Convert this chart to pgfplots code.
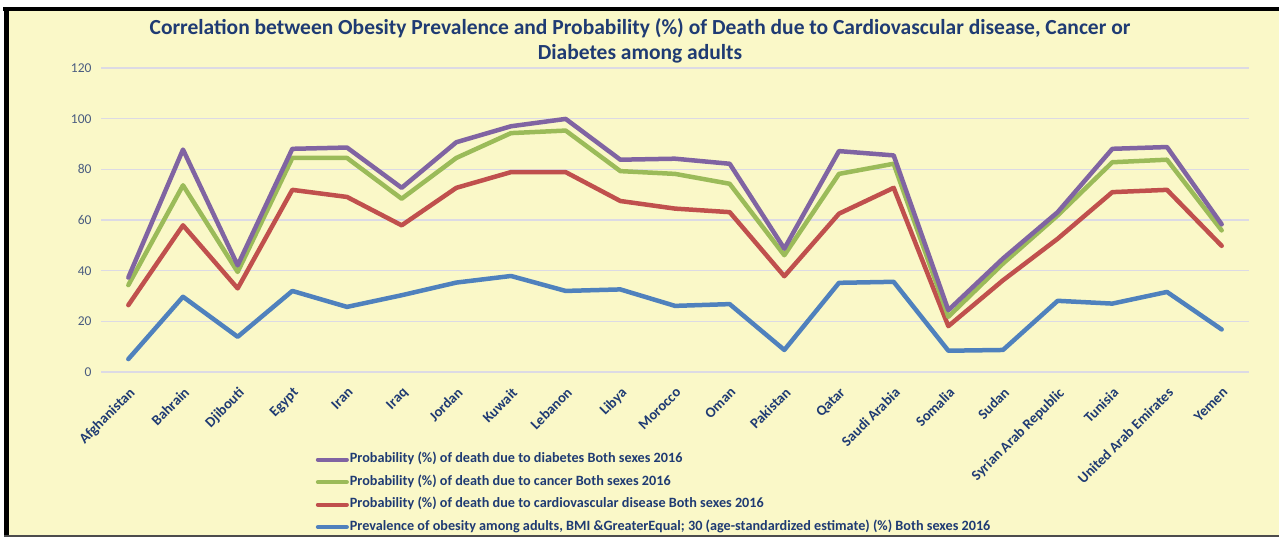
\documentclass[border=0pt]{standalone}
\usepackage{pgfplots}
\pgfplotsset{compat=1.18}
\usepackage{fontspec}
\setmainfont{Carlito}
\definecolor{bgY}{HTML}{FAF8C8}
\definecolor{titleC}{HTML}{1F3B73}
\definecolor{tickC}{HTML}{4A5C80}
\definecolor{gridC}{HTML}{DCDAE4}
\definecolor{cPurple}{HTML}{8064A2}
\definecolor{cGreen}{HTML}{9BBB59}
\definecolor{cRed}{HTML}{C0504D}
\definecolor{cBlue}{HTML}{4F81BD}
\pgfplotstableread{
x obes cvd cancer diab
0  5.1 26.4 34.3 37.3
1 29.7 57.9 73.7 87.8
2 13.9 33.0 39.5 42.1
3 32.0 71.9 84.5 88.1
4 25.7 69.1 84.5 88.6
5 30.3 57.9 68.4 72.7
6 35.3 72.7 84.5 90.7
7 37.9 78.9 94.3 97.0
8 32.0 78.9 95.3 99.9
9 32.6 67.5 79.3 83.8
10 26.1 64.5 78.2 84.2
11 26.8 63.1 74.3 82.2
12 8.7 37.8 46.1 48.7
13 35.2 62.5 78.2 87.2
14 35.6 72.7 82.2 85.5
15 8.4 18.1 21.8 24.4
16 8.7 36.2 42.8 44.8
17 28.1 52.6 61.8 63.1
18 27.0 71.0 82.8 88.1
19 31.6 71.9 83.8 88.8
20 16.8 49.8 55.9 58.3
}\datatable
\begin{document}
\begin{tikzpicture}[x=1pt,y=1pt]
\path[use as bounding box] (0,0) rectangle (1279,-537);
\fill[white] (0,0) rectangle (1279,-537);
\fill[bgY] (4,-8) rectangle (1279,-537);
\draw[black, line width=4] (3,-9) -- (1279,-9);
\draw[black, line width=5] (6,-8) -- (6,-537);
\draw[black!70, line width=2] (4,-536) -- (1279,-536);
\node[align=center, text=titleC, font=\fontsize{21.5}{25}\selectfont\bfseries] at (640,-41) {Correlation between Obesity Prevalence and Probability (\%) of Death due to Cardiovascular disease, Cancer or\\Diabetes among adults};
\begin{axis}[
  at={(101pt,-372pt)}, anchor=south west,
  width=1148pt, height=304pt, scale only axis,
  xmin=-0.5, xmax=20.5, ymin=0, ymax=120,
  ytick={0,20,...,120},
  xtick={0,...,20},
  xticklabels={Afghanistan,Bahrain,Djibouti,Egypt,Iran,Iraq,Jordan,Kuwait,Lebanon,Libya,Morocco,Oman,Pakistan,Qatar,Saudi Arabia,Somalia,Sudan,Syrian Arab Republic,Tunisia,United Arab Emirates,Yemen},
  axis line style={draw=none},
  major tick length=0pt,
  ymajorgrids, major grid style={draw=gridC, line width=1.6pt},
  /pgf/number format/assume math mode=true,
  yticklabel style={font=\fontsize{13.5}{16}\selectfont, text=tickC, anchor=east, xshift=-6pt},
  xticklabel shift=13pt,
  xticklabel style={font=\fontsize{14.5}{17}\selectfont\bfseries, text=titleC, rotate=45, anchor=north east, inner sep=1pt},
  legend cell align=left,
  reverse legend,
  legend style={at={(0.187,-0.262)}, anchor=north west, draw=none, fill=none,
    font=\fontsize{14.2}{17}\selectfont\bfseries, text=titleC, row sep=7pt, inner sep=0pt,
    nodes={inner sep=1pt, text height=10pt, text depth=3.5pt}},
  legend image code/.code={\draw[#1, line width=4pt] (0pt,0pt) -- (29pt,0pt);},
  every axis plot/.append style={line width=4.5pt, line join=round, line cap=round, mark=none},
  clip=false,
]
\addplot[cBlue] table[x=x, y=obes] {\datatable};
\addlegendentry{Prevalence of obesity among adults, BMI \&GreaterEqual; 30 (age-standardized estimate) (\%) Both sexes 2016}
\addplot[cRed] table[x=x, y=cvd] {\datatable};
\addlegendentry{Probability (\%) of death due to cardiovascular disease Both sexes 2016}
\addplot[cGreen] table[x=x, y=cancer] {\datatable};
\addlegendentry{Probability (\%) of death due to cancer Both sexes 2016}
\addplot[cPurple] table[x=x, y=diab] {\datatable};
\addlegendentry{Probability (\%) of death due to diabetes Both sexes 2016}
\end{axis}
\end{tikzpicture}
\end{document}
